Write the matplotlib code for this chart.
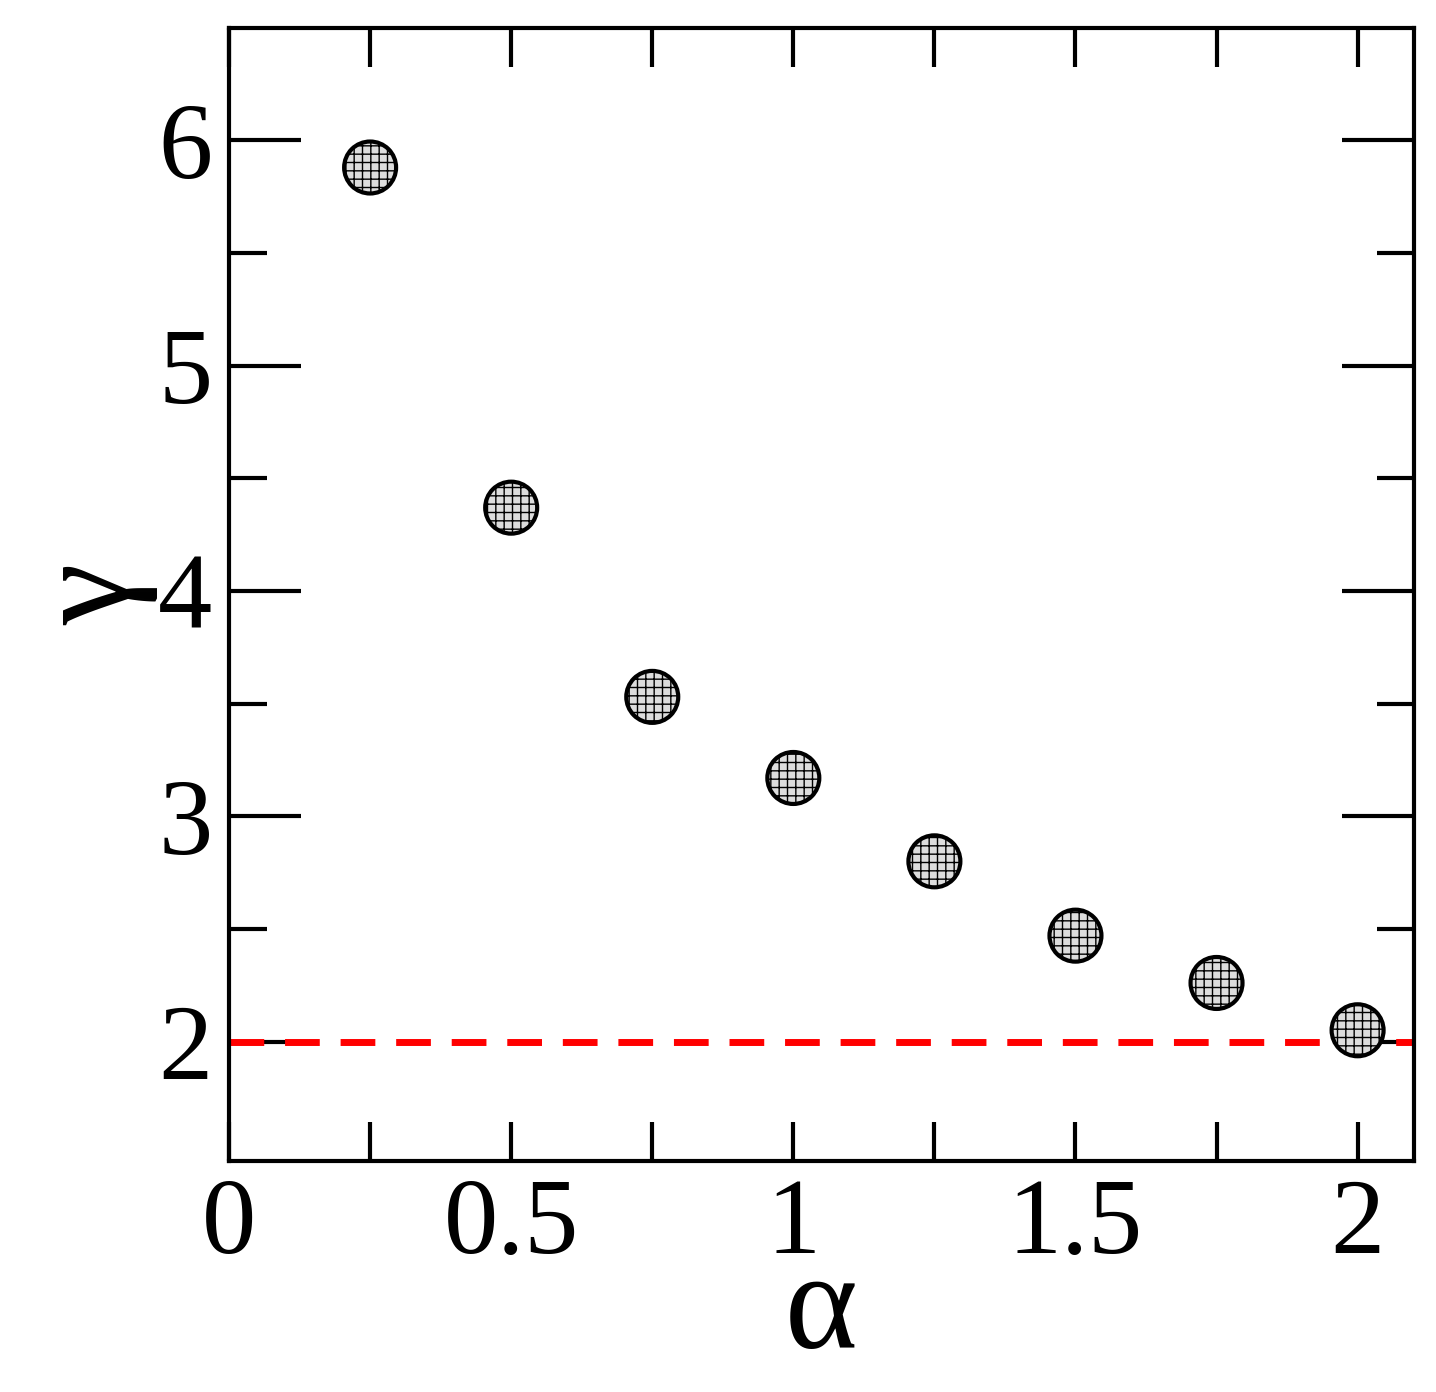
import matplotlib
matplotlib.use("Agg")
import matplotlib.pyplot as plt
from matplotlib.ticker import MultipleLocator, FixedLocator

alpha = [0.25, 0.5, 0.75, 1.0, 1.25, 1.5, 1.75, 2.0]
gamma = [5.88, 4.37, 3.53, 3.17, 2.80, 2.47, 2.26, 2.05]
ref_gamma = 2.0

plt.rcParams['font.family'] = ['Liberation Serif', 'DejaVu Serif']
plt.rcParams['hatch.linewidth'] = 1.0
fig = plt.figure(figsize=(14.36, 13.92), dpi=100)
ax = fig.add_axes([0.1595, 0.166, 0.8252, 0.814])
ax.axhline(ref_gamma, color='red', ls=(0, (5, 3)), lw=5, zorder=2)
ax.scatter(alpha, gamma, s=1400, facecolor='#dddddd', edgecolor='black',
           linewidth=3, hatch='++', zorder=3)
ax.set_xlim(0, 2.1)
ax.set_ylim(1.47, 6.5)
ax.xaxis.set_major_locator(MultipleLocator(0.5))
ax.xaxis.set_minor_locator(MultipleLocator(0.25))
ax.yaxis.set_major_locator(MultipleLocator(1))
ax.yaxis.set_minor_locator(FixedLocator([2.5, 3.5, 4.5, 5.5]))
ax.xaxis.set_major_formatter(plt.FuncFormatter(lambda v, p: f"{v:g}"))
ax.tick_params(which='both', direction='in', top=True, right=True, width=3, labelsize=78, pad=12)
ax.tick_params(which='both', length=28)
ax.tick_params(axis='y', which='major', length=52)
ax.tick_params(axis='y', which='minor', length=27)
for s in ax.spines.values():
    s.set_linewidth(3)
ax.set_xlabel('α', fontsize=100, labelpad=-18)
ax.set_ylabel('γ', fontsize=100, labelpad=0)
fig.savefig('out.png', dpi=100)
